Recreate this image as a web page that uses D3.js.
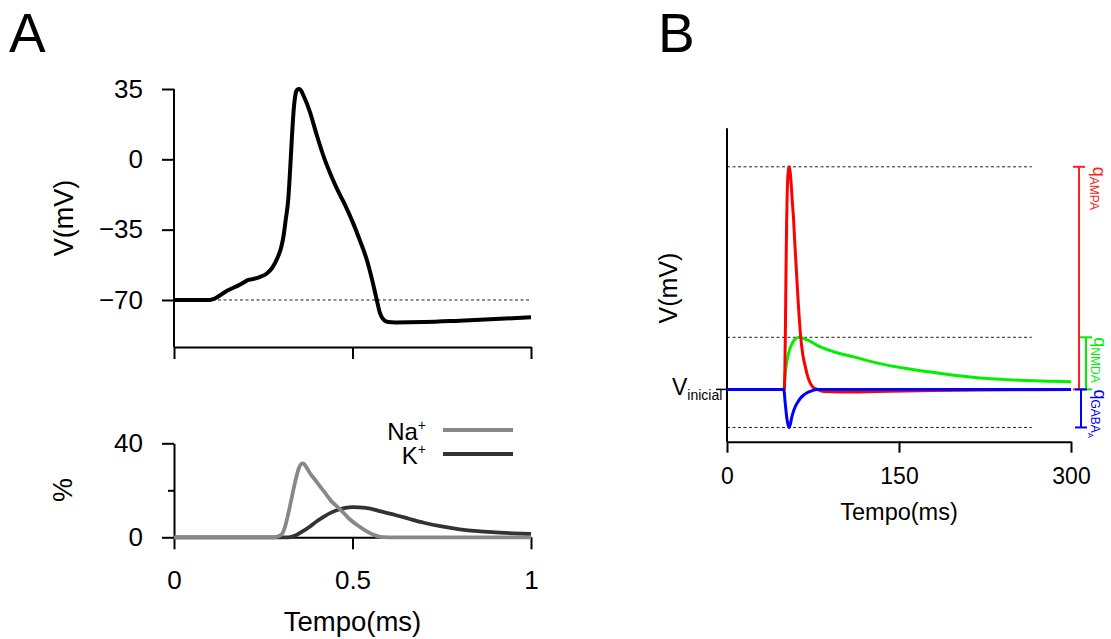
<!DOCTYPE html>
<html><head><meta charset="utf-8">
<script src="https://cdn.jsdelivr.net/npm/d3@7"></script>
<style>
html,body{margin:0;padding:0;background:#fff;}
svg{display:block;font-family:"Liberation Sans",Arial,Helvetica,sans-serif;}
</style></head>
<body><svg id="c" width="1111" height="639"></svg>
<script>
// ---------- DATA ----------
// Panel A (top): action potential
const apTime = [0,0.1,0.15,0.2,0.205,0.22,0.24,0.26,0.275,0.29,0.3,0.307,0.313,0.32,0.325,0.33,0.335,0.34,0.345,0.35,0.356,0.362,0.38,0.4,0.42,0.44,0.46,0.48,0.5,0.52,0.54,0.555,0.568,0.577,0.588,0.6,0.62,0.7,0.8,0.9,1.0];
const apVolt = [-70,-70,-65.3,-60.8,-60.2,-59.6,-58.6,-56.8,-54,-49,-44,-38,-30,-20,-6,10,24,32,34.6,35,34.2,32,24,12,1,-8,-16,-23,-31,-40,-50,-60,-70,-76.5,-80,-81,-81.2,-81,-80.3,-79.5,-78.6];
const apRest = -70;
const apYTicks = [35,0,-35,-70];
const timeTicksA = [0,0.5,1];
const timeTickLabelsA = ["0","0.5","1"];
// Panel A (bottom): conductances
const naTime = [0,0.28,0.3,0.31,0.32,0.33,0.34,0.35,0.356,0.362,0.37,0.38,0.4,0.42,0.44,0.465,0.49,0.515,0.54,0.56,0.577,0.6,1.0];
const naPct  = [0,0,1,4,10,17,24,29.5,31.2,31.5,30,27.5,23.5,19.5,15.5,12,8,5,2.5,1,0.2,0,0];
const kTime  = [0,0.32,0.34,0.36,0.38,0.4,0.42,0.44,0.46,0.48,0.5,0.52,0.55,0.58,0.62,0.66,0.7,0.75,0.8,0.85,0.9,0.95,1.0];
const kPct   = [0,0,0.8,2.5,4.5,6.8,8.8,10.5,11.7,12.5,12.8,12.7,12.2,11,9.5,7.8,6.2,4.6,3.4,2.6,2.1,1.7,1.4];
const pctTicks = [0,20,40];
const pctTickLabels = ["0","","40"];
const legendNames = ["Na","K"];
// Panel B: synaptic potentials (relative to V_inicial, arbitrary units)
const ampaTime = [0,50,50.5,51,51.5,52,52.5,53,53.7,54.3,55,56,57,58,59,60,61,62,63,64,66,68.4,70,72.7,75,78.6,85,100,130,180,250,300];
const ampaV    = [0,0,0.1,0.3,0.55,0.75,0.88,0.95,0.99,1.0,0.98,0.92,0.84,0.77,0.67,0.58,0.49,0.4,0.32,0.25,0.16,0.1,0.065,0.027,0.01,0,-0.01,-0.012,-0.01,-0.005,-0.002,0];
const nmdaTime = [0,49.5,50.8,52,53.7,55,56.6,58,59.5,61,63,70,81.4,95,110.6,125,139.7,155,168.8,185,197.9,212,227,240,256,280,300];
const nmdaV    = [0,0,0.072,0.12,0.16,0.185,0.204,0.217,0.226,0.231,0.234,0.222,0.191,0.166,0.146,0.126,0.109,0.095,0.084,0.073,0.064,0.056,0.049,0.045,0.041,0.037,0.034];
const gabaTime = [0,49.5,50.8,52.2,53.3,54.3,55.3,56.6,58,59.5,62,64,67,69.8,74,78.6,85,300];
const gabaV    = [0,0,-0.063,-0.13,-0.16,-0.171,-0.155,-0.123,-0.098,-0.078,-0.055,-0.04,-0.025,-0.015,-0.006,0,0,0];
const timeTicksB = [0,150,300];
const qNames = ["AMPA","NMDA","GABA"];

// ---------- SCALES ----------
const svg = d3.select("#c");
const FONT_T = 26;
const xA = d3.scaleLinear().domain([0,1]).range([174,531]);
const yA = d3.scaleLinear().domain([-93.4,35]).range([347,89]);
const yA2 = d3.scaleLinear().domain([0,40]).range([537.3,443.3]);
const xB = d3.scaleLinear().domain([0,300]).range([727,1071]);
const yB = d3.scaleLinear().domain([-0.235,1.173]).range([441.7,128.3]);

function styleAxis(g, fs){
  g.selectAll("path.domain").attr("stroke","#000").attr("stroke-width",2);
  g.selectAll(".tick line").attr("stroke","#000").attr("stroke-width",2);
  g.selectAll(".tick text").attr("font-size",fs).attr("fill","#000")
    .attr("font-family",'"Liberation Sans",Arial,Helvetica,sans-serif');
}

// ---------- PANEL A TOP ----------
svg.append("text").attr("x",9).attr("y",52).attr("font-size",55).text("A");
svg.append("line").attr("x1",xA(0)).attr("x2",xA(1)).attr("y1",yA(apRest)).attr("y2",yA(apRest))
  .attr("stroke","#222").attr("stroke-width",1).attr("stroke-dasharray","3,2.5");
const gAy = svg.append("g").attr("transform",`translate(${xA(0)},0)`)
  .call(d3.axisLeft(yA).tickValues(apYTicks).tickSize(12).tickSizeOuter(0).tickPadding(19));
gAy.select("path.domain").attr("d",`M0,${yA(35)}V${yA.range()[0]}`);
styleAxis(gAy, FONT_T);
const gAx = svg.append("g").attr("transform",`translate(0,${yA.range()[0]})`)
  .call(d3.axisBottom(xA).tickValues(timeTicksA).tickSize(12).tickSizeOuter(0).tickFormat(""));
styleAxis(gAx, FONT_T);
svg.append("text").attr("transform",`translate(73,218) rotate(-90)`).attr("text-anchor","middle")
  .attr("font-size",27).text("V(mV)");
const lineA = d3.line().x((d,i)=>xA(apTime[i])).y(d=>yA(d)).curve(d3.curveMonotoneX);
svg.append("path").attr("d",lineA(apVolt)).attr("fill","none").attr("stroke","#000")
  .attr("stroke-width",4).attr("stroke-linejoin","round");

// ---------- PANEL A BOTTOM ----------
const gA2y = svg.append("g").attr("transform",`translate(${xA(0)},0)`)
  .call(d3.axisLeft(yA2).tickValues(pctTicks).tickSize(12).tickSizeOuter(0).tickPadding(19)
    .tickFormat((d,i)=>pctTickLabels[i]));
styleAxis(gA2y, FONT_T);
gA2y.selectAll(".tick").filter(d=>d===20).select("line").attr("x2",-6);
const gA2x = svg.append("g").attr("transform",`translate(0,${yA2(0)})`)
  .call(d3.axisBottom(xA).tickValues(timeTicksA).tickSize(12).tickSizeOuter(0).tickPadding(21)
    .tickFormat((d,i)=>timeTickLabelsA[i]));
styleAxis(gA2x, FONT_T);
svg.append("text").attr("transform",`translate(72,490) rotate(-90)`).attr("text-anchor","middle")
  .attr("font-size",27).text("%");
svg.append("text").attr("x",(xA(0)+xA(1))/2).attr("y",631).attr("text-anchor","middle")
  .attr("font-size",27.5).text("Tempo(ms)");
const lineNa = d3.line().x((d,i)=>xA(naTime[i])).y(d=>yA2(d)).curve(d3.curveMonotoneX);
const lineK = d3.line().x((d,i)=>xA(kTime[i])).y(d=>yA2(d)).curve(d3.curveMonotoneX);
svg.append("path").attr("d",lineK(kPct)).attr("fill","none").attr("stroke","#333").attr("stroke-width",3.8);
svg.append("path").attr("d",lineNa(naPct)).attr("fill","none").attr("stroke","#888").attr("stroke-width",3.8);
// legend
const legColors = ["#888","#333"];
legendNames.forEach((n,i)=>{
  const yy = 430 + i*24;
  const t = svg.append("text").attr("x",426).attr("y",yy+10).attr("text-anchor","end").attr("font-size",24);
  t.append("tspan").text(n);
  t.append("tspan").attr("font-size",14).attr("dy",-10).text("+");
  svg.append("line").attr("x1",443).attr("x2",513).attr("y1",yy).attr("y2",yy)
    .attr("stroke",legColors[i]).attr("stroke-width",3.8);
});

// ---------- PANEL B ----------
svg.append("text").attr("x",658).attr("y",52).attr("font-size",55).text("B");
const dotted = [1.0, d3.max(nmdaV), d3.min(gabaV)];
dotted.forEach(v=>{
  svg.append("line").attr("x1",xB(0)).attr("x2",xB(265.8)).attr("y1",yB(v)).attr("y2",yB(v))
    .attr("stroke","#222").attr("stroke-width",1).attr("stroke-dasharray","3,2.5");
});
const gBx = svg.append("g").attr("transform",`translate(0,${yB.range()[0]})`)
  .call(d3.axisBottom(xB).tickValues(timeTicksB).tickSize(11).tickSizeOuter(0).tickPadding(15));
styleAxis(gBx, 23);
svg.append("line").attr("x1",xB(0)).attr("x2",xB(0)).attr("y1",yB.range()[1]).attr("y2",yB.range()[0])
  .attr("stroke","#000").attr("stroke-width",2);
svg.append("line").attr("x1",xB(0)-11).attr("x2",xB(0)).attr("y1",yB(0)).attr("y2",yB(0))
  .attr("stroke","#000").attr("stroke-width",1.5);
svg.append("text").attr("x",xB.range()[0]/2+xB.range()[1]/2).attr("y",520).attr("text-anchor","middle")
  .attr("font-size",23.5).text("Tempo(ms)");
svg.append("text").attr("transform",`translate(677,288) rotate(-90)`).attr("text-anchor","middle")
  .attr("font-size",25).text("V(mV)");
const vi = svg.append("text").attr("x",672).attr("y",395).attr("font-size",23);
vi.append("tspan").text("V");
vi.append("tspan").attr("font-size",14).attr("dy",5).text("inicial");

const lineB = (tt)=>d3.line().x((d,i)=>xB(tt[i])).y(d=>yB(d)).curve(d3.curveMonotoneX);
svg.append("path").attr("d",lineB(nmdaTime)(nmdaV)).attr("fill","none").attr("stroke","#00f000").attr("stroke-width",3);
svg.append("path").attr("d",lineB(ampaTime)(ampaV)).attr("fill","none").attr("stroke","#ff0000").attr("stroke-width",3);
svg.append("path").attr("d",lineB(gabaTime)(gabaV)).attr("fill","none").attr("stroke","#0000ff").attr("stroke-width",3);

// amplitude bars
const bars = [
  {v: dotted[0], dx: 8,  c:"#ff2020", lx: 22},
  {v: dotted[1], dx: 15, c:"#00f000", lx: 23},
  {v: dotted[2], dx: 10, c:"#0000ff", lx: 23}
];
bars.forEach((b,i)=>{
  const x = xB(300)+b.dx, y1 = yB(0), y2 = yB(b.v);
  svg.append("line").attr("x1",x).attr("x2",x).attr("y1",y1).attr("y2",y2).attr("stroke",b.c).attr("stroke-width",2);
  [y1,y2].forEach(yy=>svg.append("line").attr("x1",x-6).attr("x2",x+6).attr("y1",yy).attr("y2",yy)
    .attr("stroke",b.c).attr("stroke-width",2));
  const ty = Math.min(y1,y2);
  const t = svg.append("text").attr("transform",`translate(${xB(300)+b.lx},${ty}) rotate(90)`)
    .attr("fill",b.c).attr("font-size",18);
  t.append("tspan").text("q");
  t.append("tspan").attr("font-size",12).attr("dy",3).text(qNames[i]);
  if(i===2) t.append("tspan").attr("font-size",8).attr("dy",3).text("A");
});
</script></body></html>
